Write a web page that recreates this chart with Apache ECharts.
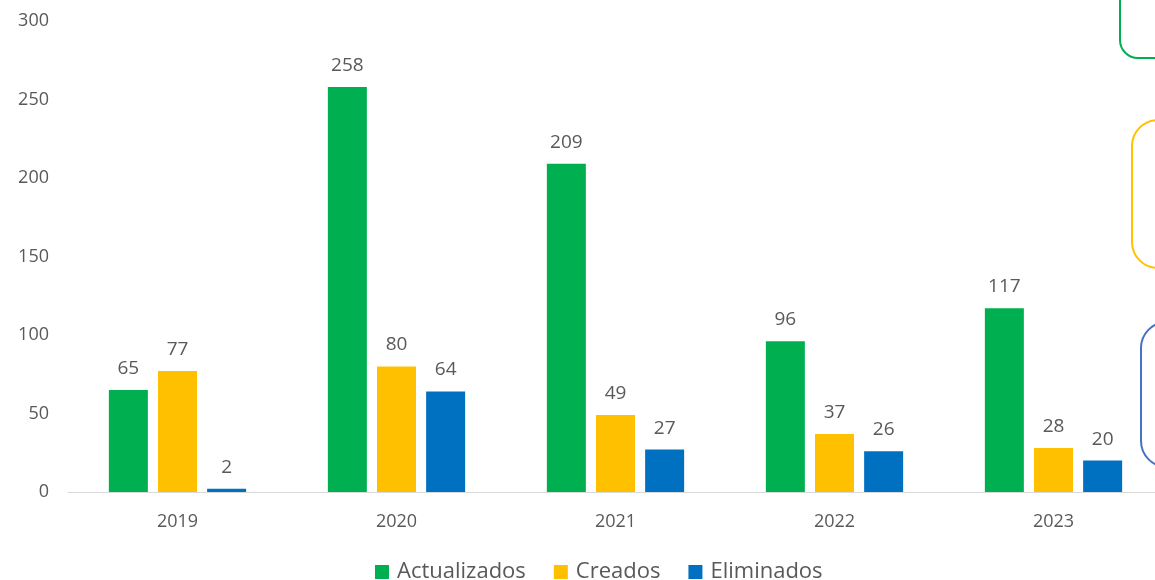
<!DOCTYPE html>
<html>
<head>
<meta charset="utf-8">
<script src="https://cdn.jsdelivr.net/npm/echarts@6/dist/echarts.min.js"></script>
<style>
  html, body { margin: 0; padding: 0; background: #fff; }
  #chart { width: 1155px; height: 580px; }
</style>
</head>
<body>
<div id="chart"></div>
<script>
const years = ['2019', '2020', '2021', '2022', '2023']
const actualizados = [65, 258, 209, 96, 117]
const creados = [77, 80, 49, 37, 28]
const eliminados = [2, 64, 27, 26, 20]

const font = 'Open Sans'
const textColor = '#595959'

const myChart = echarts.init(document.getElementById('chart'))

function barSeries (name, data, color) {
  return {
    name: name,
    type: 'bar',
    data: data,
    barWidth: 39,
    barGap: '26%',
    itemStyle: { color: color },
    label: {
      show: true,
      position: 'top',
      distance: 12,
      color: textColor,
      fontFamily: font,
      fontSize: 19
    }
  }
}

const option = {
  animation: false,
  grid: {
    left: 68,
    top: 21,
    width: 1095,
    height: 471,
    outerBoundsMode: 'none',
    containLabel: false
  },
  legend: {
    top: 561,
    left: 375,
    padding: 0,
    itemWidth: 14,
    itemHeight: 14,
    itemGap: 28,
    icon: 'rect',
    textStyle: { color: textColor, fontFamily: font, fontSize: 22, padding: [0, 0, 0, 3] },
    data: ['Actualizados', 'Creados', 'Eliminados']
  },
  xAxis: {
    type: 'category',
    data: years,
    axisTick: { show: false },
    axisLine: { lineStyle: { color: '#d9d9d9', width: 1 } },
    axisLabel: { color: textColor, fontFamily: font, fontSize: 18, margin: 21 }
  },
  yAxis: {
    type: 'value',
    min: 0,
    max: 300,
    interval: 50,
    splitLine: { show: false },
    axisLine: { show: false },
    axisTick: { show: false },
    axisLabel: { color: textColor, fontFamily: font, fontSize: 18, margin: 19 }
  },
  series: [
    barSeries('Actualizados', actualizados, '#00b050'),
    barSeries('Creados', creados, '#ffc000'),
    barSeries('Eliminados', eliminados, '#0070c0')
  ],
  graphic: [
    {
      type: 'rect',
      shape: { x: 1120, y: -40, width: 80, height: 98, r: 18 },
      style: { fill: 'none', stroke: '#00b050', lineWidth: 2 }
    },
    {
      type: 'rect',
      shape: { x: 1132, y: 120, width: 80, height: 148, r: 26 },
      style: { fill: 'none', stroke: '#ffc000', lineWidth: 2 }
    },
    {
      type: 'rect',
      shape: { x: 1141, y: 322, width: 80, height: 145, r: 26 },
      style: { fill: 'none', stroke: '#4472c4', lineWidth: 2 }
    }
  ]
}
myChart.setOption(option)
</script>
</body>
</html>
